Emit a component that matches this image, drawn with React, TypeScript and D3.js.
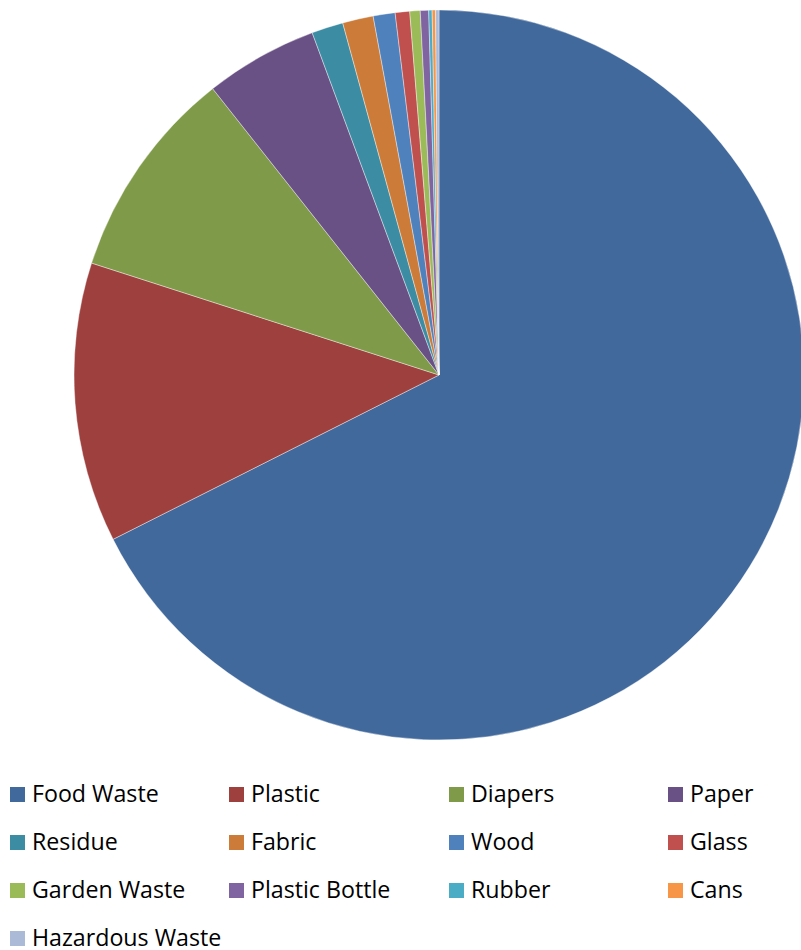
import React from "react";
import * as d3 from "d3";

const categories = [
  "Food Waste", "Plastic", "Diapers", "Paper", "Residue", "Fabric", "Wood",
  "Glass", "Garden Waste", "Plastic Bottle", "Rubber", "Cans", "Hazardous Waste",
];
const values = [67.6, 12.4, 9.4, 5.0, 1.4, 1.36, 0.97, 0.64, 0.46, 0.37, 0.15, 0.15, 0.15];
const colors = [
  "#41699C", "#9E413E", "#7F9A48", "#695185", "#3C8DA3", "#CC7B38", "#4F81BD",
  "#C0504D", "#9BBB59", "#8064A2", "#4BACC6", "#F79646", "#AABAD7",
];

const W = 801;
const H = 950;
const cx = 439;
const cy = 375;
const R = 365;

export default function App() {
  const pie = d3.pie<number>().sort(null).value((d) => d);
  const arcs = pie(values);
  const arcGen = d3.arc<d3.PieArcDatum<number>>().innerRadius(0).outerRadius(R);
  const colX = [10, 229, 449, 668];
  const rowY = [787, 835, 883, 931];
  return (
    <svg width={W} height={H} style={{ position: "absolute", left: 0, top: 0 }}>
      <rect width={W} height={H} fill="#fff" />
      <g transform={`translate(${cx},${cy})`}>
        {arcs.map((a, i) => (
          <path key={i} d={arcGen(a) || ""} fill={colors[i]} stroke="#fff" strokeWidth={0.4} />
        ))}
      </g>
      {categories.map((c, i) => {
        const x = colX[i % 4];
        const y = rowY[Math.floor(i / 4)];
        return (
          <g key={c}>
            <rect x={x} y={y} width={15} height={15} fill={colors[i]} />
            <text x={x + 22} y={y + 15} fontFamily="Open Sans" fontSize={23.2} fill="#000">
              {c}
            </text>
          </g>
        );
      })}
    </svg>
  );
}
